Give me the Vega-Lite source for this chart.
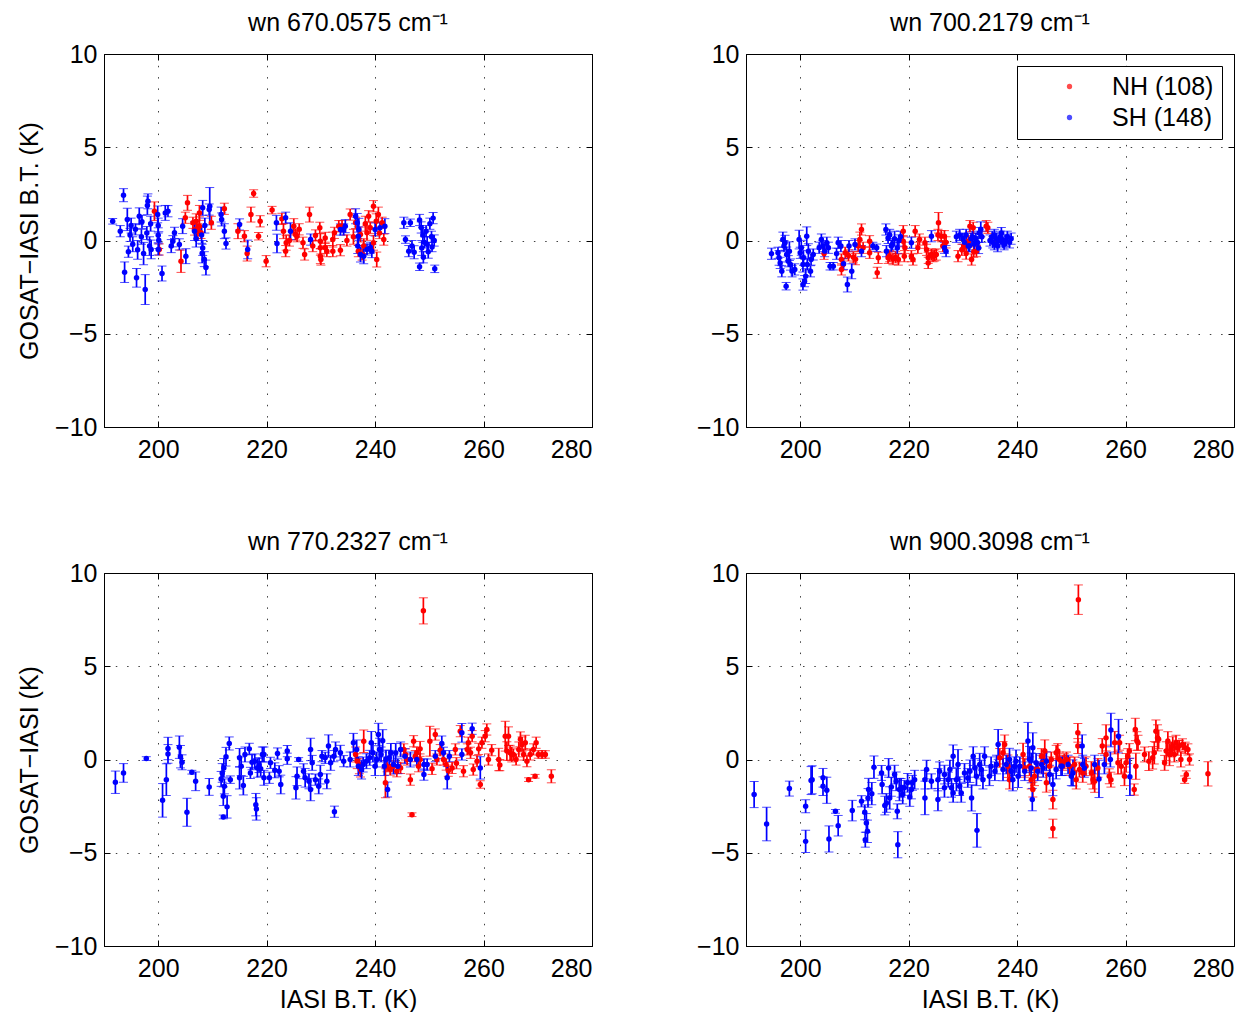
{
"$schema":"https://vega.github.io/schema/vega-lite/v6.json",
"padding":{"left":16,"top":10,"right":0,"bottom":0},
"background":"white",
"config":{
 "font":"Liberation Sans",
 "view":{"stroke":"black","strokeWidth":1},
 "axis":{"grid":true,"gridDash":[1.5,9.8],"gridColor":"#000","gridOpacity":0.75,"domainColor":"#000","tickColor":"#000","tickSize":-6,"labelFontSize":25,"labelColor":"#000","titleFontSize":25,"titleFontWeight":"normal","titleColor":"#000","labelFont":"Liberation Sans","titleFont":"Liberation Sans"},
 "axisX":{"labelPadding":16,"titlePadding":6},
 "axisY":{"labelPadding":13,"titlePadding":12.5},
 "title":{"fontSize":25,"fontWeight":"normal","color":"#000","font":"Liberation Sans","offset":6}
},
"datasets":{
"a":[
{"g":"NH","x":199.3,"y":1.57,"e":0.5},{"g":"NH","x":200.2,"y":-0.48,"e":0.3},{"g":"NH","x":205.4,"y":2.02,"e":0.4},{"g":"NH","x":205.0,"y":1.22,"e":0.3},{"g":"NH","x":204.2,"y":-1.11,"e":0.6},{"g":"NH","x":206.4,"y":0.95,"e":0.3},{"g":"NH","x":207.0,"y":1.03,"e":0.4},{"g":"NH","x":207.6,"y":0.77,"e":0.5},{"g":"NH","x":207.9,"y":0.41,"e":0.3},{"g":"NH","x":207.3,"y":0.5,"e":0.4},{"g":"NH","x":206.7,"y":0.59,"e":0.3},{"g":"NH","x":207.6,"y":1.48,"e":0.4},{"g":"NH","x":209.8,"y":0.95,"e":0.35},{"g":"NH","x":212.2,"y":1.7,"e":0.3},{"g":"NH","x":214.7,"y":0.5,"e":0.4},{"g":"NH","x":215.9,"y":0.23,"e":0.3},{"g":"NH","x":217.1,"y":1.39,"e":0.4},{"g":"NH","x":217.6,"y":2.52,"e":0.2},{"g":"NH","x":218.8,"y":1.03,"e":0.3},{"g":"NH","x":218.5,"y":0.23,"e":0.2},{"g":"NH","x":219.9,"y":-1.11,"e":0.3},{"g":"NH","x":216.4,"y":-0.7,"e":0.4},{"g":"NH","x":221.0,"y":1.63,"e":0.2},{"g":"NH","x":222.8,"y":1.16,"e":0.3},{"g":"NH","x":223.1,"y":0.5,"e":0.4},{"g":"NH","x":223.5,"y":-0.57,"e":0.3},{"g":"NH","x":223.6,"y":-0.12,"e":0.4},{"g":"NH","x":225.0,"y":0.77,"e":0.4},{"g":"NH","x":225.3,"y":0.32,"e":0.3},{"g":"NH","x":225.6,"y":0.23,"e":0.3},{"g":"NH","x":226.7,"y":-0.12,"e":0.3},{"g":"NH","x":227.0,"y":-0.75,"e":0.3},{"g":"NH","x":227.9,"y":1.39,"e":0.4},{"g":"NH","x":229.0,"y":0.27,"e":0.3},{"g":"NH","x":229.8,"y":0.68,"e":0.3},{"g":"NH","x":229.9,"y":-0.04,"e":0.4},{"g":"NH","x":229.9,"y":-0.39,"e":0.4},{"g":"NH","x":229.9,"y":-0.84,"e":0.4},{"g":"NH","x":230.0,"y":-1.02,"e":0.3},{"g":"NH","x":230.8,"y":0.14,"e":0.3},{"g":"NH","x":230.8,"y":-0.39,"e":0.3},{"g":"NH","x":231.1,"y":-0.57,"e":0.3},{"g":"NH","x":232.2,"y":0.05,"e":0.4},{"g":"NH","x":232.2,"y":-0.57,"e":0.3},{"g":"NH","x":232.5,"y":0.41,"e":0.3},{"g":"NH","x":233.6,"y":-0.52,"e":0.3},{"g":"NH","x":233.3,"y":0.77,"e":0.3},{"g":"NH","x":233.9,"y":0.77,"e":0.3},{"g":"NH","x":235.4,"y":1.39,"e":0.3},{"g":"NH","x":236.4,"y":0.95,"e":0.3},{"g":"NH","x":237.3,"y":0.32,"e":0.4},{"g":"NH","x":237.9,"y":-0.3,"e":0.4},{"g":"NH","x":238.5,"y":0.41,"e":0.4},{"g":"NH","x":238.8,"y":1.3,"e":0.3},{"g":"NH","x":239.7,"y":1.84,"e":0.3},{"g":"NH","x":240.2,"y":1.03,"e":0.4},{"g":"NH","x":240.6,"y":1.39,"e":0.4},{"g":"NH","x":241.3,"y":0.95,"e":0.3},{"g":"NH","x":241.6,"y":0.05,"e":0.3},{"g":"NH","x":240.3,"y":-1.02,"e":0.4},{"g":"NH","x":237.6,"y":-0.75,"e":0.3},{"g":"NH","x":236.9,"y":-0.57,"e":0.3},{"g":"NH","x":239.7,"y":-0.12,"e":0.4},{"g":"NH","x":239.1,"y":0.68,"e":0.3},{"g":"NH","x":238.2,"y":0.9,"e":0.4},{"g":"NH","x":240.8,"y":0.4,"e":0.3},{"g":"NH","x":236.0,"y":0.2,"e":0.4},{"g":"NH","x":234.8,"y":0.0,"e":0.3},{"g":"NH","x":228.5,"y":-0.3,"e":0.3},{"g":"NH","x":226.0,"y":0.6,"e":0.3},{"g":"NH","x":224.2,"y":0.0,"e":0.3},
{"g":"SH","x":191.6,"y":1.03,"e":0.15},{"g":"SH","x":193.6,"y":2.43,"e":0.35},{"g":"SH","x":193.0,"y":0.5,"e":0.3},{"g":"SH","x":194.3,"y":1.13,"e":0.6},{"g":"SH","x":193.8,"y":-1.7,"e":0.55},{"g":"SH","x":196.0,"y":-2.0,"e":0.5},{"g":"SH","x":197.6,"y":-2.63,"e":0.8},{"g":"SH","x":200.7,"y":-1.77,"e":0.4},{"g":"SH","x":198.0,"y":1.88,"e":0.5},{"g":"SH","x":198.1,"y":2.1,"e":0.4},{"g":"SH","x":196.5,"y":1.3,"e":0.45},{"g":"SH","x":194.8,"y":0.3,"e":0.35},{"g":"SH","x":195.3,"y":-0.2,"e":0.4},{"g":"SH","x":195.8,"y":0.6,"e":0.3},{"g":"SH","x":196.2,"y":-0.5,"e":0.5},{"g":"SH","x":196.9,"y":0.2,"e":0.4},{"g":"SH","x":197.3,"y":-0.7,"e":0.6},{"g":"SH","x":197.9,"y":0.4,"e":0.35},{"g":"SH","x":198.4,"y":-0.3,"e":0.5},{"g":"SH","x":198.6,"y":0.9,"e":0.4},{"g":"SH","x":194.5,"y":-0.6,"e":0.3},{"g":"SH","x":195.0,"y":0.8,"e":0.4},{"g":"SH","x":197.0,"y":1.0,"e":0.35},{"g":"SH","x":199.9,"y":1.4,"e":0.45},{"g":"SH","x":201.3,"y":1.48,"e":0.4},{"g":"SH","x":201.8,"y":1.57,"e":0.3},{"g":"SH","x":200.0,"y":0.8,"e":0.4},{"g":"SH","x":200.0,"y":0.28,"e":0.4},{"g":"SH","x":200.1,"y":0.02,"e":0.45},{"g":"SH","x":198.7,"y":-0.48,"e":0.5},{"g":"SH","x":200.0,"y":-0.48,"e":0.3},{"g":"SH","x":202.4,"y":-0.3,"e":0.35},{"g":"SH","x":202.7,"y":-0.04,"e":0.3},{"g":"SH","x":203.0,"y":0.41,"e":0.3},{"g":"SH","x":203.9,"y":-0.21,"e":0.3},{"g":"SH","x":204.5,"y":0.77,"e":0.4},{"g":"SH","x":205.1,"y":-0.84,"e":0.4},{"g":"SH","x":206.7,"y":0.5,"e":0.5},{"g":"SH","x":207.0,"y":0.1,"e":0.45},{"g":"SH","x":208.2,"y":-0.4,"e":0.4},{"g":"SH","x":208.5,"y":-1.0,"e":0.4},{"g":"SH","x":208.1,"y":-0.7,"e":0.5},{"g":"SH","x":208.0,"y":0.3,"e":0.45},{"g":"SH","x":208.6,"y":0.8,"e":0.4},{"g":"SH","x":208.8,"y":-1.45,"e":0.4},{"g":"SH","x":208.2,"y":1.75,"e":0.4},{"g":"SH","x":209.5,"y":1.84,"e":1.0},{"g":"SH","x":209.4,"y":1.66,"e":0.3},{"g":"SH","x":211.6,"y":1.39,"e":0.4},{"g":"SH","x":211.7,"y":1.13,"e":0.35},{"g":"SH","x":212.2,"y":0.5,"e":0.4},{"g":"SH","x":212.5,"y":-0.16,"e":0.3},{"g":"SH","x":215.0,"y":0.86,"e":0.3},{"g":"SH","x":216.5,"y":-0.48,"e":0.5},{"g":"SH","x":221.8,"y":0.95,"e":0.4},{"g":"SH","x":221.9,"y":-0.16,"e":0.5},{"g":"SH","x":223.5,"y":1.22,"e":0.3},{"g":"SH","x":224.4,"y":0.5,"e":0.45},{"g":"SH","x":228.1,"y":0.05,"e":0.3},{"g":"SH","x":233.6,"y":0.59,"e":0.3},{"g":"SH","x":234.2,"y":0.59,"e":0.3},{"g":"SH","x":234.5,"y":0.77,"e":0.35},{"g":"SH","x":236.4,"y":1.3,"e":0.4},{"g":"SH","x":236.7,"y":0.95,"e":0.5},{"g":"SH","x":237.0,"y":0.59,"e":0.6},{"g":"SH","x":236.9,"y":0.23,"e":0.5},{"g":"SH","x":236.8,"y":-0.3,"e":0.4},{"g":"SH","x":237.3,"y":-0.75,"e":0.4},{"g":"SH","x":237.9,"y":-0.84,"e":0.4},{"g":"SH","x":238.5,"y":-0.48,"e":0.3},{"g":"SH","x":239.4,"y":-0.57,"e":0.35},{"g":"SH","x":240.0,"y":0.59,"e":0.35},{"g":"SH","x":240.9,"y":0.68,"e":0.3},{"g":"SH","x":241.8,"y":0.77,"e":0.4},{"g":"SH","x":239.1,"y":-0.39,"e":0.3},{"g":"SH","x":245.3,"y":0.95,"e":0.3},{"g":"SH","x":246.5,"y":0.95,"e":0.2},{"g":"SH","x":245.6,"y":0.05,"e":0.2},{"g":"SH","x":246.2,"y":-0.57,"e":0.3},{"g":"SH","x":247.2,"y":-0.63,"e":0.35},{"g":"SH","x":246.8,"y":-0.3,"e":0.3},{"g":"SH","x":248.2,"y":1.1,"e":0.3},{"g":"SH","x":248.5,"y":0.7,"e":0.3},{"g":"SH","x":248.8,"y":0.3,"e":0.4},{"g":"SH","x":249.1,"y":-0.1,"e":0.3},{"g":"SH","x":248.6,"y":-0.4,"e":0.4},{"g":"SH","x":249.4,"y":0.5,"e":0.3},{"g":"SH","x":249.8,"y":-0.6,"e":0.35},{"g":"SH","x":250.1,"y":0.9,"e":0.3},{"g":"SH","x":250.4,"y":0.2,"e":0.3},{"g":"SH","x":250.7,"y":1.2,"e":0.3},{"g":"SH","x":250.9,"y":0.0,"e":0.3},{"g":"SH","x":249.6,"y":-0.2,"e":0.4},{"g":"SH","x":248.9,"y":-0.9,"e":0.3},{"g":"SH","x":250.5,"y":-0.35,"e":0.25},{"g":"SH","x":248.2,"y":-1.41,"e":0.2},{"g":"SH","x":251.0,"y":-1.52,"e":0.2}
],
"b":[
{"g":"NH","x":204.4,"y":-0.71,"e":0.3},{"g":"NH","x":207.6,"y":-1.02,"e":0.3},{"g":"NH","x":207.6,"y":-1.55,"e":0.3},{"g":"NH","x":207.9,"y":-1.29,"e":0.3},{"g":"NH","x":208.3,"y":-0.66,"e":0.3},{"g":"NH","x":208.9,"y":-0.8,"e":0.3},{"g":"NH","x":209.8,"y":-0.9,"e":0.3},{"g":"NH","x":210.2,"y":-1.0,"e":0.3},{"g":"NH","x":211.0,"y":0.05,"e":0.4},{"g":"NH","x":211.3,"y":0.59,"e":0.3},{"g":"NH","x":210.7,"y":-0.3,"e":0.3},{"g":"NH","x":211.6,"y":-0.39,"e":0.3},{"g":"NH","x":212.8,"y":-0.04,"e":0.3},{"g":"NH","x":212.8,"y":-0.66,"e":0.3},{"g":"NH","x":214.4,"y":-0.93,"e":0.3},{"g":"NH","x":214.2,"y":-1.73,"e":0.3},{"g":"NH","x":216.2,"y":-0.93,"e":0.3},{"g":"NH","x":216.5,"y":-0.84,"e":0.3},{"g":"NH","x":217.1,"y":-1.0,"e":0.3},{"g":"NH","x":217.6,"y":-0.9,"e":0.3},{"g":"NH","x":218.1,"y":-1.02,"e":0.3},{"g":"NH","x":219.0,"y":0.5,"e":0.3},{"g":"NH","x":219.0,"y":-0.04,"e":0.3},{"g":"NH","x":219.2,"y":-0.84,"e":0.3},{"g":"NH","x":219.3,"y":-0.39,"e":0.3},{"g":"NH","x":220.5,"y":-0.84,"e":0.3},{"g":"NH","x":220.8,"y":-1.02,"e":0.3},{"g":"NH","x":221.2,"y":0.5,"e":0.3},{"g":"NH","x":221.7,"y":-0.39,"e":0.3},{"g":"NH","x":222.0,"y":0.05,"e":0.3},{"g":"NH","x":223.0,"y":-0.12,"e":0.3},{"g":"NH","x":223.3,"y":-0.5,"e":0.3},{"g":"NH","x":223.6,"y":-0.93,"e":0.3},{"g":"NH","x":223.6,"y":-1.2,"e":0.3},{"g":"NH","x":224.2,"y":-0.75,"e":0.3},{"g":"NH","x":224.5,"y":-0.84,"e":0.3},{"g":"NH","x":224.8,"y":-0.8,"e":0.3},{"g":"NH","x":225.1,"y":-0.75,"e":0.3},{"g":"NH","x":225.5,"y":0.95,"e":0.55},{"g":"NH","x":225.4,"y":0.3,"e":0.3},{"g":"NH","x":226.0,"y":0.23,"e":0.3},{"g":"NH","x":226.3,"y":-0.3,"e":0.3},{"g":"NH","x":226.6,"y":0.23,"e":0.3},{"g":"NH","x":226.9,"y":-0.1,"e":0.3},{"g":"NH","x":229.1,"y":-0.84,"e":0.3},{"g":"NH","x":229.8,"y":-0.5,"e":0.3},{"g":"NH","x":230.3,"y":-0.3,"e":0.3},{"g":"NH","x":230.6,"y":-0.7,"e":0.3},{"g":"NH","x":231.0,"y":-0.04,"e":0.3},{"g":"NH","x":231.3,"y":0.77,"e":0.3},{"g":"NH","x":231.9,"y":0.68,"e":0.3},{"g":"NH","x":231.6,"y":-1.02,"e":0.3},{"g":"NH","x":232.0,"y":-0.6,"e":0.3},{"g":"NH","x":232.5,"y":-0.57,"e":0.3},{"g":"NH","x":234.3,"y":0.77,"e":0.3},{"g":"NH","x":234.6,"y":0.68,"e":0.3},
{"g":"SH","x":194.7,"y":-0.71,"e":0.3},{"g":"SH","x":195.9,"y":-0.66,"e":0.3},{"g":"SH","x":196.1,"y":-0.93,"e":0.4},{"g":"SH","x":196.3,"y":-1.2,"e":0.3},{"g":"SH","x":196.6,"y":-1.65,"e":0.3},{"g":"SH","x":197.4,"y":-2.45,"e":0.2},{"g":"SH","x":196.8,"y":0.05,"e":0.4},{"g":"SH","x":197.2,"y":-0.12,"e":0.4},{"g":"SH","x":197.0,"y":-0.3,"e":0.3},{"g":"SH","x":197.5,"y":-0.75,"e":0.4},{"g":"SH","x":197.8,"y":-1.11,"e":0.3},{"g":"SH","x":198.0,"y":-0.57,"e":0.5},{"g":"SH","x":198.2,"y":-1.29,"e":0.3},{"g":"SH","x":198.5,"y":-1.65,"e":0.3},{"g":"SH","x":199.0,"y":-1.55,"e":0.3},{"g":"SH","x":199.8,"y":0.05,"e":0.5},{"g":"SH","x":200.2,"y":-0.39,"e":0.4},{"g":"SH","x":200.0,"y":-0.66,"e":0.3},{"g":"SH","x":200.6,"y":-0.93,"e":0.4},{"g":"SH","x":200.5,"y":-1.29,"e":0.4},{"g":"SH","x":201.0,"y":-1.91,"e":0.4},{"g":"SH","x":201.2,"y":0.23,"e":0.5},{"g":"SH","x":201.5,"y":-0.57,"e":0.4},{"g":"SH","x":201.3,"y":-1.29,"e":0.3},{"g":"SH","x":201.9,"y":-1.65,"e":0.3},{"g":"SH","x":202.0,"y":-1.02,"e":0.3},{"g":"SH","x":202.4,"y":-0.75,"e":0.3},{"g":"SH","x":200.5,"y":-2.36,"e":0.3},{"g":"SH","x":200.8,"y":-2.18,"e":0.3},{"g":"SH","x":203.9,"y":0.05,"e":0.3},{"g":"SH","x":204.2,"y":-0.3,"e":0.3},{"g":"SH","x":204.9,"y":-0.12,"e":0.3},{"g":"SH","x":205.2,"y":-0.39,"e":0.3},{"g":"SH","x":203.5,"y":-0.39,"e":0.3},{"g":"SH","x":204.5,"y":-0.57,"e":0.3},{"g":"SH","x":205.5,"y":-1.38,"e":0.2},{"g":"SH","x":206.1,"y":-1.38,"e":0.2},{"g":"SH","x":207.0,"y":-0.12,"e":0.3},{"g":"SH","x":206.7,"y":-0.71,"e":0.3},{"g":"SH","x":208.0,"y":-1.25,"e":0.3},{"g":"SH","x":208.7,"y":-2.36,"e":0.4},{"g":"SH","x":209.0,"y":-0.3,"e":0.3},{"g":"SH","x":210.1,"y":-0.21,"e":0.3},{"g":"SH","x":211.3,"y":-0.57,"e":0.3},{"g":"SH","x":209.5,"y":-1.65,"e":0.4},{"g":"SH","x":207.5,"y":-0.3,"e":0.3},{"g":"SH","x":213.4,"y":-0.3,"e":0.2},{"g":"SH","x":214.1,"y":-0.39,"e":0.2},{"g":"SH","x":215.8,"y":0.59,"e":0.3},{"g":"SH","x":216.2,"y":0.14,"e":0.3},{"g":"SH","x":215.9,"y":-0.57,"e":0.3},{"g":"SH","x":216.5,"y":0.3,"e":0.3},{"g":"SH","x":217.0,"y":-0.2,"e":0.3},{"g":"SH","x":217.4,"y":0.1,"e":0.4},{"g":"SH","x":217.9,"y":-0.4,"e":0.3},{"g":"SH","x":218.2,"y":0.0,"e":0.3},{"g":"SH","x":218.5,"y":0.2,"e":0.3},{"g":"SH","x":216.8,"y":-0.3,"e":0.3},{"g":"SH","x":220.5,"y":-0.12,"e":0.3},{"g":"SH","x":224.2,"y":0.23,"e":0.3},{"g":"SH","x":226.6,"y":-0.39,"e":0.3},{"g":"SH","x":226.9,"y":-0.57,"e":0.3},{"g":"SH","x":228.8,"y":0.2,"e":0.3},{"g":"SH","x":229.4,"y":0.3,"e":0.3},{"g":"SH","x":230.0,"y":0.1,"e":0.3},{"g":"SH","x":230.3,"y":-0.1,"e":0.3},{"g":"SH","x":230.6,"y":0.3,"e":0.3},{"g":"SH","x":231.2,"y":-0.3,"e":0.3},{"g":"SH","x":231.5,"y":0.1,"e":0.3},{"g":"SH","x":231.8,"y":0.2,"e":0.3},{"g":"SH","x":232.1,"y":-0.2,"e":0.3},{"g":"SH","x":232.4,"y":0.1,"e":0.3},{"g":"SH","x":232.7,"y":-0.1,"e":0.3},{"g":"SH","x":233.0,"y":0.4,"e":0.3},{"g":"SH","x":233.3,"y":0.6,"e":0.4},{"g":"SH","x":233.5,"y":0.2,"e":0.3},{"g":"SH","x":232.9,"y":-0.4,"e":0.3},{"g":"SH","x":231.0,"y":-0.3,"e":0.3},{"g":"SH","x":235.0,"y":0.0,"e":0.3},{"g":"SH","x":235.4,"y":0.2,"e":0.3},{"g":"SH","x":235.8,"y":0.3,"e":0.3},{"g":"SH","x":236.2,"y":0.1,"e":0.3},{"g":"SH","x":236.6,"y":0.0,"e":0.3},{"g":"SH","x":237.0,"y":0.1,"e":0.3},{"g":"SH","x":237.4,"y":-0.1,"e":0.3},{"g":"SH","x":237.8,"y":0.0,"e":0.3},{"g":"SH","x":238.2,"y":0.2,"e":0.3},{"g":"SH","x":238.6,"y":-0.1,"e":0.3},{"g":"SH","x":235.8,"y":-0.2,"e":0.3},{"g":"SH","x":236.4,"y":-0.3,"e":0.3},{"g":"SH","x":237.1,"y":0.4,"e":0.3},{"g":"SH","x":237.6,"y":-0.2,"e":0.3},{"g":"SH","x":238.0,"y":0.0,"e":0.3},{"g":"SH","x":235.5,"y":-0.1,"e":0.3},{"g":"SH","x":236.9,"y":0.2,"e":0.3},{"g":"SH","x":238.9,"y":0.1,"e":0.3}
],
"c":[
{"g":"NH","x":236.4,"y":0.27,"e":0.4},{"g":"NH","x":236.7,"y":-0.09,"e":0.4},{"g":"NH","x":237.1,"y":-0.36,"e":0.4},{"g":"NH","x":237.9,"y":0.98,"e":0.6},{"g":"NH","x":237.3,"y":-0.54,"e":0.4},{"g":"NH","x":241.9,"y":-1.25,"e":0.8},{"g":"NH","x":242.2,"y":-0.36,"e":0.3},{"g":"NH","x":242.8,"y":-0.54,"e":0.3},{"g":"NH","x":243.4,"y":-0.36,"e":0.3},{"g":"NH","x":244.0,"y":-0.63,"e":0.3},{"g":"NH","x":244.7,"y":-0.45,"e":0.3},{"g":"NH","x":245.3,"y":0.54,"e":0.3},{"g":"NH","x":245.6,"y":0.27,"e":0.3},{"g":"NH","x":245.9,"y":0.0,"e":0.3},{"g":"NH","x":246.5,"y":-1.08,"e":0.3},{"g":"NH","x":247.1,"y":0.98,"e":0.3},{"g":"NH","x":247.4,"y":0.18,"e":0.3},{"g":"NH","x":247.7,"y":0.36,"e":0.3},{"g":"NH","x":248.0,"y":-0.36,"e":0.3},{"g":"NH","x":248.3,"y":0.0,"e":0.3},{"g":"NH","x":246.8,"y":-2.96,"e":0.1},{"g":"NH","x":248.3,"y":0.57,"e":0.4},{"g":"NH","x":248.9,"y":7.97,"e":0.7},{"g":"NH","x":250.1,"y":0.98,"e":0.8},{"g":"NH","x":251.1,"y":1.34,"e":0.3},{"g":"NH","x":251.4,"y":0.0,"e":0.3},{"g":"NH","x":252.6,"y":0.0,"e":0.3},{"g":"NH","x":253.1,"y":-0.27,"e":0.3},{"g":"NH","x":254.2,"y":-0.45,"e":0.3},{"g":"NH","x":254.8,"y":0.54,"e":0.3},{"g":"NH","x":255.7,"y":1.52,"e":0.3},{"g":"NH","x":256.3,"y":-0.63,"e":0.3},{"g":"NH","x":257.0,"y":0.54,"e":0.3},{"g":"NH","x":257.2,"y":0.9,"e":0.3},{"g":"NH","x":257.6,"y":0.36,"e":0.3},{"g":"NH","x":257.9,"y":1.25,"e":0.3},{"g":"NH","x":258.1,"y":-0.54,"e":0.3},{"g":"NH","x":258.8,"y":-0.09,"e":0.3},{"g":"NH","x":259.1,"y":0.57,"e":0.3},{"g":"NH","x":259.4,"y":-1.34,"e":0.2},{"g":"NH","x":259.7,"y":0.9,"e":0.3},{"g":"NH","x":260.3,"y":1.25,"e":0.3},{"g":"NH","x":260.6,"y":1.61,"e":0.3},{"g":"NH","x":260.9,"y":0.0,"e":0.3},{"g":"NH","x":262.8,"y":0.0,"e":0.6},{"g":"NH","x":264.0,"y":1.25,"e":0.8},{"g":"NH","x":264.3,"y":0.45,"e":0.5},{"g":"NH","x":264.6,"y":1.25,"e":0.5},{"g":"NH","x":264.9,"y":0.36,"e":0.4},{"g":"NH","x":265.2,"y":0.27,"e":0.4},{"g":"NH","x":265.5,"y":0.27,"e":0.3},{"g":"NH","x":266.5,"y":0.54,"e":0.4},{"g":"NH","x":266.8,"y":1.08,"e":0.4},{"g":"NH","x":267.1,"y":0.81,"e":0.4},{"g":"NH","x":267.4,"y":0.27,"e":0.3},{"g":"NH","x":267.7,"y":0.9,"e":0.4},{"g":"NH","x":268.0,"y":-0.09,"e":0.3},{"g":"NH","x":268.3,"y":-1.08,"e":0.1},{"g":"NH","x":268.6,"y":0.27,"e":0.3},{"g":"NH","x":269.2,"y":0.54,"e":0.3},{"g":"NH","x":269.5,"y":-0.9,"e":0.1},{"g":"NH","x":269.7,"y":0.9,"e":0.3},{"g":"NH","x":270.1,"y":0.27,"e":0.2},{"g":"NH","x":270.8,"y":0.27,"e":0.2},{"g":"NH","x":271.4,"y":0.27,"e":0.2},{"g":"NH","x":272.5,"y":-0.9,"e":0.35},{"g":"NH","x":250.5,"y":-0.5,"e":0.3},{"g":"NH","x":252.0,"y":0.5,"e":0.3},{"g":"NH","x":253.5,"y":-0.6,"e":0.3},{"g":"NH","x":255.0,"y":-0.2,"e":0.3},{"g":"NH","x":261.5,"y":0.5,"e":0.3},{"g":"NH","x":263.0,"y":-0.3,"e":0.3},{"g":"NH","x":266.0,"y":0.0,"e":0.3},
{"g":"SH","x":192.1,"y":-1.22,"e":0.6},{"g":"SH","x":193.6,"y":-0.72,"e":0.5},{"g":"SH","x":197.8,"y":0.05,"e":0.1},{"g":"SH","x":200.8,"y":-2.19,"e":0.9},{"g":"SH","x":201.5,"y":-1.08,"e":0.85},{"g":"SH","x":201.8,"y":0.59,"e":0.6},{"g":"SH","x":201.8,"y":0.3,"e":0.5},{"g":"SH","x":203.9,"y":0.66,"e":0.6},{"g":"SH","x":204.1,"y":0.15,"e":0.6},{"g":"SH","x":204.4,"y":-0.15,"e":0.4},{"g":"SH","x":205.3,"y":-2.83,"e":0.75},{"g":"SH","x":206.2,"y":-0.68,"e":0.1},{"g":"SH","x":206.9,"y":-1.17,"e":0.5},{"g":"SH","x":209.4,"y":-1.47,"e":0.45},{"g":"SH","x":211.6,"y":-1.04,"e":0.4},{"g":"SH","x":211.8,"y":-0.72,"e":0.5},{"g":"SH","x":212.1,"y":-0.45,"e":0.5},{"g":"SH","x":212.2,"y":-1.44,"e":0.4},{"g":"SH","x":212.0,"y":-1.97,"e":0.5},{"g":"SH","x":212.7,"y":-2.54,"e":0.6},{"g":"SH","x":212.0,"y":-3.08,"e":0.1},{"g":"SH","x":213.1,"y":0.86,"e":0.35},{"g":"SH","x":212.5,"y":0.15,"e":0.5},{"g":"SH","x":213.3,"y":-1.08,"e":0.2},{"g":"SH","x":215.0,"y":0.09,"e":0.5},{"g":"SH","x":215.3,"y":-0.36,"e":0.5},{"g":"SH","x":215.0,"y":-0.98,"e":0.6},{"g":"SH","x":215.7,"y":-1.4,"e":0.5},{"g":"SH","x":216.0,"y":0.27,"e":0.4},{"g":"SH","x":217.0,"y":-0.72,"e":0.3},{"g":"SH","x":216.8,"y":0.57,"e":0.3},{"g":"SH","x":217.3,"y":-0.15,"e":0.4},{"g":"SH","x":217.8,"y":-0.1,"e":0.4},{"g":"SH","x":218.3,"y":-0.45,"e":0.5},{"g":"SH","x":218.6,"y":-0.3,"e":0.4},{"g":"SH","x":218.9,"y":-0.5,"e":0.4},{"g":"SH","x":219.2,"y":0.27,"e":0.4},{"g":"SH","x":218.0,"y":-2.42,"e":0.6},{"g":"SH","x":218.1,"y":-2.65,"e":0.6},{"g":"SH","x":219.5,"y":0.27,"e":0.4},{"g":"SH","x":219.5,"y":-0.98,"e":0.4},{"g":"SH","x":220.7,"y":-0.18,"e":0.3},{"g":"SH","x":220.5,"y":-0.98,"e":0.3},{"g":"SH","x":221.5,"y":-0.58,"e":0.4},{"g":"SH","x":222.0,"y":0.32,"e":0.3},{"g":"SH","x":222.3,"y":-0.63,"e":0.3},{"g":"SH","x":222.6,"y":-1.34,"e":0.5},{"g":"SH","x":223.8,"y":0.45,"e":0.3},{"g":"SH","x":223.8,"y":0.04,"e":0.3},{"g":"SH","x":225.4,"y":-1.52,"e":0.6},{"g":"SH","x":225.6,"y":-0.9,"e":0.5},{"g":"SH","x":225.9,"y":0.0,"e":0.1},{"g":"SH","x":226.8,"y":-0.63,"e":0.4},{"g":"SH","x":227.1,"y":-0.98,"e":0.5},{"g":"SH","x":227.8,"y":-1.17,"e":0.4},{"g":"SH","x":228.1,"y":0.54,"e":0.6},{"g":"SH","x":228.1,"y":-1.61,"e":0.6},{"g":"SH","x":228.4,"y":-0.18,"e":0.4},{"g":"SH","x":229.0,"y":-1.08,"e":0.3},{"g":"SH","x":229.6,"y":-1.44,"e":0.4},{"g":"SH","x":229.9,"y":-0.81,"e":0.5},{"g":"SH","x":230.2,"y":0.18,"e":0.3},{"g":"SH","x":230.8,"y":0.09,"e":0.3},{"g":"SH","x":231.1,"y":-1.17,"e":0.4},{"g":"SH","x":231.4,"y":0.72,"e":0.6},{"g":"SH","x":231.8,"y":-0.18,"e":0.4},{"g":"SH","x":232.4,"y":0.18,"e":0.3},{"g":"SH","x":232.7,"y":0.54,"e":0.4},{"g":"SH","x":232.5,"y":-2.8,"e":0.3},{"g":"SH","x":233.6,"y":0.36,"e":0.4},{"g":"SH","x":234.2,"y":-0.09,"e":0.3},{"g":"SH","x":235.4,"y":0.0,"e":0.4},{"g":"SH","x":236.0,"y":0.9,"e":0.5},{"g":"SH","x":236.6,"y":0.54,"e":0.5},{"g":"SH","x":236.9,"y":-0.36,"e":0.5},{"g":"SH","x":237.5,"y":-0.54,"e":0.5},{"g":"SH","x":237.8,"y":-0.27,"e":0.4},{"g":"SH","x":238.4,"y":-0.09,"e":0.4},{"g":"SH","x":239.0,"y":0.09,"e":0.4},{"g":"SH","x":239.3,"y":0.9,"e":0.6},{"g":"SH","x":239.6,"y":0.36,"e":0.5},{"g":"SH","x":240.0,"y":-0.36,"e":0.5},{"g":"SH","x":240.3,"y":0.0,"e":0.4},{"g":"SH","x":240.6,"y":1.34,"e":0.6},{"g":"SH","x":240.8,"y":0.54,"e":0.6},{"g":"SH","x":241.1,"y":0.27,"e":0.4},{"g":"SH","x":241.4,"y":1.0,"e":0.6},{"g":"SH","x":241.7,"y":-0.36,"e":0.5},{"g":"SH","x":242.0,"y":0.0,"e":0.5},{"g":"SH","x":242.3,"y":-1.61,"e":0.4},{"g":"SH","x":242.6,"y":0.09,"e":0.4},{"g":"SH","x":242.9,"y":0.36,"e":0.5},{"g":"SH","x":243.4,"y":-0.27,"e":0.5},{"g":"SH","x":243.8,"y":0.36,"e":0.5},{"g":"SH","x":244.2,"y":-0.36,"e":0.4},{"g":"SH","x":244.7,"y":0.54,"e":0.4},{"g":"SH","x":245.5,"y":0.18,"e":0.4},{"g":"SH","x":246.5,"y":0.0,"e":0.4},{"g":"SH","x":247.7,"y":0.0,"e":0.3},{"g":"SH","x":249.0,"y":-0.27,"e":0.3},{"g":"SH","x":249.0,"y":-0.81,"e":0.3},{"g":"SH","x":249.6,"y":-0.27,"e":0.3},{"g":"SH","x":251.1,"y":0.18,"e":0.3},{"g":"SH","x":252.3,"y":0.86,"e":0.4},{"g":"SH","x":252.6,"y":0.36,"e":0.3},{"g":"SH","x":253.3,"y":-0.98,"e":0.6},{"g":"SH","x":253.7,"y":0.18,"e":0.3},{"g":"SH","x":256.0,"y":1.43,"e":0.5},{"g":"SH","x":256.0,"y":0.27,"e":0.3},{"g":"SH","x":257.9,"y":1.65,"e":0.3},{"g":"SH","x":259.4,"y":-0.45,"e":0.6}
],
"d":[
{"g":"NH","x":237.4,"y":0.36,"e":0.6},{"g":"NH","x":237.7,"y":0.81,"e":0.5},{"g":"NH","x":236.8,"y":0.09,"e":0.5},{"g":"NH","x":238.3,"y":-0.36,"e":0.6},{"g":"NH","x":238.6,"y":-1.08,"e":0.5},{"g":"NH","x":241.1,"y":0.27,"e":0.6},{"g":"NH","x":241.4,"y":-0.45,"e":0.5},{"g":"NH","x":242.3,"y":-0.36,"e":0.5},{"g":"NH","x":242.6,"y":-1.08,"e":0.5},{"g":"NH","x":242.9,"y":-1.61,"e":0.4},{"g":"NH","x":243.2,"y":-0.9,"e":0.5},{"g":"NH","x":243.8,"y":-0.54,"e":0.4},{"g":"NH","x":244.5,"y":0.18,"e":0.4},{"g":"NH","x":244.8,"y":-0.18,"e":0.5},{"g":"NH","x":245.1,"y":0.45,"e":0.6},{"g":"NH","x":245.4,"y":-1.25,"e":0.5},{"g":"NH","x":246.0,"y":-0.36,"e":0.5},{"g":"NH","x":246.3,"y":0.0,"e":0.4},{"g":"NH","x":246.6,"y":-2.15,"e":0.5},{"g":"NH","x":246.6,"y":-3.7,"e":0.5},{"g":"NH","x":247.2,"y":0.36,"e":0.4},{"g":"NH","x":247.5,"y":0.45,"e":0.4},{"g":"NH","x":248.4,"y":-0.18,"e":0.4},{"g":"NH","x":249.1,"y":0.0,"e":0.4},{"g":"NH","x":247.8,"y":0.0,"e":0.4},{"g":"NH","x":248.7,"y":-0.09,"e":0.4},{"g":"NH","x":249.7,"y":-0.36,"e":0.5},{"g":"NH","x":250.6,"y":-0.27,"e":0.4},{"g":"NH","x":250.9,"y":-1.08,"e":0.5},{"g":"NH","x":251.2,"y":1.43,"e":0.5},{"g":"NH","x":251.2,"y":0.72,"e":0.4},{"g":"NH","x":251.3,"y":8.57,"e":0.79},{"g":"NH","x":251.5,"y":-0.54,"e":0.4},{"g":"NH","x":252.1,"y":-0.72,"e":0.5},{"g":"NH","x":252.7,"y":-0.36,"e":0.5},{"g":"NH","x":253.7,"y":-0.72,"e":0.6},{"g":"NH","x":254.0,"y":-1.08,"e":0.5},{"g":"NH","x":254.3,"y":-1.16,"e":0.6},{"g":"NH","x":254.9,"y":-0.45,"e":0.5},{"g":"NH","x":255.7,"y":0.72,"e":0.4},{"g":"NH","x":256.4,"y":1.16,"e":0.7},{"g":"NH","x":256.4,"y":0.27,"e":0.5},{"g":"NH","x":257.0,"y":-0.9,"e":0.4},{"g":"NH","x":257.3,"y":-1.08,"e":0.4},{"g":"NH","x":258.0,"y":0.9,"e":0.6},{"g":"NH","x":258.6,"y":-0.18,"e":0.6},{"g":"NH","x":258.9,"y":0.9,"e":0.4},{"g":"NH","x":259.2,"y":-0.36,"e":0.4},{"g":"NH","x":259.8,"y":-0.9,"e":0.5},{"g":"NH","x":260.1,"y":-0.18,"e":0.5},{"g":"NH","x":260.4,"y":0.18,"e":0.4},{"g":"NH","x":260.7,"y":0.45,"e":0.4},{"g":"NH","x":261.6,"y":-1.61,"e":0.3},{"g":"NH","x":261.8,"y":1.61,"e":0.6},{"g":"NH","x":261.9,"y":-0.36,"e":0.7},{"g":"NH","x":262.1,"y":0.99,"e":0.5},{"g":"NH","x":262.3,"y":0.9,"e":0.4},{"g":"NH","x":263.5,"y":0.27,"e":0.4},{"g":"NH","x":264.3,"y":-0.09,"e":0.5},{"g":"NH","x":265.0,"y":0.09,"e":0.6},{"g":"NH","x":265.3,"y":0.36,"e":0.6},{"g":"NH","x":265.6,"y":1.52,"e":0.6},{"g":"NH","x":265.9,"y":1.16,"e":0.7},{"g":"NH","x":266.1,"y":1.08,"e":0.5},{"g":"NH","x":267.2,"y":-0.18,"e":0.4},{"g":"NH","x":267.5,"y":0.45,"e":0.5},{"g":"NH","x":267.8,"y":0.99,"e":0.5},{"g":"NH","x":268.1,"y":0.27,"e":0.6},{"g":"NH","x":268.4,"y":0.54,"e":0.4},{"g":"NH","x":268.7,"y":0.72,"e":0.5},{"g":"NH","x":269.0,"y":0.27,"e":0.4},{"g":"NH","x":269.3,"y":0.9,"e":0.4},{"g":"NH","x":269.6,"y":0.63,"e":0.4},{"g":"NH","x":269.9,"y":0.72,"e":0.3},{"g":"NH","x":270.2,"y":0.0,"e":0.4},{"g":"NH","x":270.5,"y":0.81,"e":0.3},{"g":"NH","x":270.9,"y":-1.08,"e":0.2},{"g":"NH","x":271.0,"y":0.63,"e":0.3},{"g":"NH","x":271.2,"y":-0.81,"e":0.2},{"g":"NH","x":271.5,"y":0.54,"e":0.3},{"g":"NH","x":271.8,"y":0.0,"e":0.3},{"g":"NH","x":275.2,"y":-0.77,"e":0.65},
{"g":"SH","x":191.5,"y":-1.88,"e":0.7},{"g":"SH","x":193.8,"y":-3.46,"e":0.9},{"g":"SH","x":198.0,"y":-1.56,"e":0.4},{"g":"SH","x":201.0,"y":-2.51,"e":0.35},{"g":"SH","x":201.0,"y":-4.39,"e":0.6},{"g":"SH","x":202.0,"y":-1.13,"e":0.75},{"g":"SH","x":202.2,"y":-1.08,"e":0.75},{"g":"SH","x":204.2,"y":-0.98,"e":0.5},{"g":"SH","x":204.2,"y":-1.43,"e":0.5},{"g":"SH","x":204.9,"y":-1.65,"e":0.7},{"g":"SH","x":205.3,"y":-4.26,"e":0.7},{"g":"SH","x":206.5,"y":-2.78,"e":0.1},{"g":"SH","x":207.0,"y":-3.55,"e":0.55},{"g":"SH","x":209.6,"y":-2.74,"e":0.55},{"g":"SH","x":211.3,"y":-2.24,"e":0.3},{"g":"SH","x":211.9,"y":-2.83,"e":0.4},{"g":"SH","x":212.2,"y":-3.4,"e":0.5},{"g":"SH","x":212.4,"y":-3.85,"e":0.6},{"g":"SH","x":212.0,"y":-4.3,"e":0.4},{"g":"SH","x":212.5,"y":-2.06,"e":0.5},{"g":"SH","x":212.6,"y":-1.61,"e":0.6},{"g":"SH","x":213.2,"y":-1.83,"e":0.6},{"g":"SH","x":213.6,"y":-0.41,"e":0.6},{"g":"SH","x":215.0,"y":-0.72,"e":0.4},{"g":"SH","x":215.1,"y":-1.34,"e":0.5},{"g":"SH","x":215.6,"y":-2.47,"e":0.5},{"g":"SH","x":215.9,"y":-2.33,"e":0.5},{"g":"SH","x":216.3,"y":-0.45,"e":0.5},{"g":"SH","x":216.5,"y":-2.06,"e":0.6},{"g":"SH","x":216.8,"y":-1.47,"e":0.5},{"g":"SH","x":217.4,"y":-0.81,"e":0.5},{"g":"SH","x":217.7,"y":-1.17,"e":0.5},{"g":"SH","x":217.9,"y":-2.78,"e":0.4},{"g":"SH","x":218.0,"y":-4.57,"e":0.7},{"g":"SH","x":218.3,"y":-1.61,"e":0.6},{"g":"SH","x":218.6,"y":-1.52,"e":0.5},{"g":"SH","x":218.9,"y":-1.88,"e":0.5},{"g":"SH","x":219.2,"y":-1.52,"e":0.4},{"g":"SH","x":219.8,"y":-1.25,"e":0.5},{"g":"SH","x":220.2,"y":-2.01,"e":0.5},{"g":"SH","x":220.7,"y":-1.25,"e":0.4},{"g":"SH","x":220.5,"y":-1.61,"e":0.5},{"g":"SH","x":221.1,"y":-1.08,"e":0.5},{"g":"SH","x":223.0,"y":-1.08,"e":0.5},{"g":"SH","x":223.3,"y":-0.54,"e":0.5},{"g":"SH","x":223.0,"y":-2.06,"e":0.9},{"g":"SH","x":224.2,"y":-1.17,"e":0.4},{"g":"SH","x":225.4,"y":-1.08,"e":0.6},{"g":"SH","x":225.4,"y":-2.15,"e":0.6},{"g":"SH","x":225.7,"y":-0.63,"e":0.5},{"g":"SH","x":226.6,"y":-0.81,"e":0.5},{"g":"SH","x":226.6,"y":-1.52,"e":0.5},{"g":"SH","x":227.3,"y":-1.08,"e":0.4},{"g":"SH","x":227.6,"y":-0.54,"e":0.5},{"g":"SH","x":227.9,"y":-1.52,"e":0.5},{"g":"SH","x":228.2,"y":0.18,"e":0.6},{"g":"SH","x":228.2,"y":-1.79,"e":0.5},{"g":"SH","x":228.8,"y":-1.08,"e":0.6},{"g":"SH","x":229.1,"y":-0.27,"e":0.8},{"g":"SH","x":229.4,"y":-1.43,"e":0.5},{"g":"SH","x":229.7,"y":-1.79,"e":0.5},{"g":"SH","x":230.3,"y":-0.72,"e":0.5},{"g":"SH","x":230.9,"y":-0.99,"e":0.5},{"g":"SH","x":231.3,"y":-0.63,"e":0.6},{"g":"SH","x":231.6,"y":-2.06,"e":0.7},{"g":"SH","x":231.9,"y":0.18,"e":0.5},{"g":"SH","x":232.2,"y":-0.45,"e":0.5},{"g":"SH","x":232.5,"y":-0.9,"e":0.5},{"g":"SH","x":232.6,"y":-3.8,"e":0.9},{"g":"SH","x":233.1,"y":-0.27,"e":0.6},{"g":"SH","x":233.4,"y":-0.54,"e":0.5},{"g":"SH","x":233.7,"y":-1.08,"e":0.5},{"g":"SH","x":234.0,"y":0.18,"e":0.5},{"g":"SH","x":234.9,"y":-0.9,"e":0.5},{"g":"SH","x":235.2,"y":-0.36,"e":0.5},{"g":"SH","x":235.9,"y":-0.63,"e":0.5},{"g":"SH","x":236.2,"y":-0.27,"e":0.5},{"g":"SH","x":236.5,"y":0.81,"e":0.8},{"g":"SH","x":237.4,"y":-0.54,"e":0.6},{"g":"SH","x":238.0,"y":-0.27,"e":0.5},{"g":"SH","x":238.6,"y":0.0,"e":0.6},{"g":"SH","x":238.9,"y":-0.63,"e":0.5},{"g":"SH","x":239.2,"y":-1.08,"e":0.6},{"g":"SH","x":239.5,"y":-0.36,"e":0.5},{"g":"SH","x":239.8,"y":-0.09,"e":0.6},{"g":"SH","x":240.2,"y":-0.9,"e":0.6},{"g":"SH","x":240.5,"y":-0.36,"e":0.5},{"g":"SH","x":241.4,"y":-0.63,"e":0.5},{"g":"SH","x":242.0,"y":0.99,"e":1.0},{"g":"SH","x":242.3,"y":0.0,"e":0.7},{"g":"SH","x":242.6,"y":-0.45,"e":0.8},{"g":"SH","x":242.8,"y":-2.15,"e":0.6},{"g":"SH","x":242.9,"y":0.63,"e":0.8},{"g":"SH","x":243.5,"y":-0.18,"e":0.5},{"g":"SH","x":243.8,"y":-0.63,"e":0.5},{"g":"SH","x":244.5,"y":-0.27,"e":0.5},{"g":"SH","x":244.8,"y":-0.45,"e":0.5},{"g":"SH","x":245.4,"y":-0.09,"e":0.5},{"g":"SH","x":246.0,"y":-0.81,"e":0.5},{"g":"SH","x":246.6,"y":-1.34,"e":0.6},{"g":"SH","x":247.2,"y":-0.54,"e":0.5},{"g":"SH","x":248.1,"y":-0.36,"e":0.5},{"g":"SH","x":248.3,"y":-0.36,"e":0.5},{"g":"SH","x":249.4,"y":-0.27,"e":0.5},{"g":"SH","x":250.0,"y":-0.9,"e":0.5},{"g":"SH","x":250.3,"y":-0.72,"e":0.7},{"g":"SH","x":252.0,"y":0.72,"e":0.6},{"g":"SH","x":252.1,"y":-0.27,"e":0.5},{"g":"SH","x":252.4,"y":-0.45,"e":0.5},{"g":"SH","x":254.3,"y":-0.27,"e":0.5},{"g":"SH","x":255.1,"y":-1.04,"e":1.0},{"g":"SH","x":256.1,"y":-0.27,"e":0.5},{"g":"SH","x":257.2,"y":0.0,"e":0.4},{"g":"SH","x":257.3,"y":1.58,"e":0.9},{"g":"SH","x":258.7,"y":1.25,"e":0.9},{"g":"SH","x":260.8,"y":-0.93,"e":1.0}
]
},
"concat":[
{"width":488,"height":373,"data":{"name":"a"},"title":{"text":"wn 670.0575 cm⁻¹"},
 "layer":[
  {"mark":{"type":"errorbar","ticks":{"size":9,"strokeWidth":1.7},"rule":{"strokeWidth":1.7}},
   "encoding":{
    "x":{"field":"x","type":"quantitative","scale":{"domain":[190,280],"nice":false,"zero":false},"axis":{"orient":"bottom","values":[200,220,240,260,280],"title":null}},
    "y":{"field":"y","type":"quantitative","scale":{"domain":[-10,10],"nice":false},"axis":{"orient":"left","values":[-10,-5,0,5,10],"title":"GOSAT−IASI B.T. (K)"}},
    "yError":{"field":"e"},
    "color":{"field":"g","type":"nominal","scale":{"domain":["NH","SH"],"range":["#ff0000","#0000ff"]},"legend":null}}},
  {"mark":{"type":"circle","size":30,"opacity":1},
   "encoding":{
    "x":{"field":"x","type":"quantitative","axis":{"orient":"top","values":[200,220,240,260,280],"labels":false,"grid":false,"domain":false,"title":null}},
    "y":{"field":"y","type":"quantitative","axis":{"orient":"right","values":[-10,-5,0,5,10],"labels":false,"grid":false,"domain":false,"title":null}},
    "color":{"field":"g","type":"nominal","scale":{"domain":["NH","SH"],"range":["#ff0000","#0000ff"]},"legend":null}}}
 ],
 "resolve":{"axis":{"x":"independent","y":"independent"}}},
{"width":488,"height":373,"data":{"name":"b"},"title":{"text":"wn 700.2179 cm⁻¹"},
 "layer":[
  {"mark":{"type":"errorbar","ticks":{"size":9,"strokeWidth":1.7},"rule":{"strokeWidth":1.7}},
   "encoding":{
    "x":{"field":"x","type":"quantitative","scale":{"domain":[190,280],"nice":false,"zero":false},"axis":{"orient":"bottom","values":[200,220,240,260,280],"title":null}},
    "y":{"field":"y","type":"quantitative","scale":{"domain":[-10,10],"nice":false},"axis":{"orient":"left","values":[-10,-5,0,5,10],"title":null}},
    "yError":{"field":"e"},
    "color":{"field":"g","type":"nominal","scale":{"domain":["NH","SH"],"range":["#ff0000","#0000ff"]},"legend":{"orient":"top-right","offset":12,"title":null,"strokeColor":"black","fillColor":"white","padding":8,"labelFontSize":25,"labelFont":"Liberation Sans","labelColor":"black","symbolType":"circle","symbolSize":28,"symbolStrokeWidth":0,"symbolOffset":32,"labelOffset":30,"rowPadding":5,"cornerRadius":0,"labelExpr":"datum.label == 'NH' ? 'NH (108)' : 'SH (148)'"}}}},
  {"mark":{"type":"circle","size":30,"opacity":1},
   "encoding":{
    "x":{"field":"x","type":"quantitative","axis":{"orient":"top","values":[200,220,240,260,280],"labels":false,"grid":false,"domain":false,"title":null}},
    "y":{"field":"y","type":"quantitative","axis":{"orient":"right","values":[-10,-5,0,5,10],"labels":false,"grid":false,"domain":false,"title":null}},
    "color":{"field":"g","type":"nominal","scale":{"domain":["NH","SH"],"range":["#ff0000","#0000ff"]},"legend":{"orient":"top-right","offset":12,"title":null,"strokeColor":"black","fillColor":"white","padding":8,"labelFontSize":25,"labelFont":"Liberation Sans","labelColor":"black","symbolType":"circle","symbolSize":28,"symbolStrokeWidth":0,"symbolOffset":32,"labelOffset":30,"rowPadding":5,"cornerRadius":0,"labelExpr":"datum.label == 'NH' ? 'NH (108)' : 'SH (148)'"}}}}
 ],
 "resolve":{"axis":{"x":"independent","y":"independent"}}},
{"width":488,"height":373,"data":{"name":"c"},"title":{"text":"wn 770.2327 cm⁻¹"},
 "layer":[
  {"mark":{"type":"errorbar","ticks":{"size":9,"strokeWidth":1.7},"rule":{"strokeWidth":1.7}},
   "encoding":{
    "x":{"field":"x","type":"quantitative","scale":{"domain":[190,280],"nice":false,"zero":false},"axis":{"orient":"bottom","values":[200,220,240,260,280],"title":"IASI B.T. (K)"}},
    "y":{"field":"y","type":"quantitative","scale":{"domain":[-10,10],"nice":false},"axis":{"orient":"left","values":[-10,-5,0,5,10],"title":"GOSAT−IASI (K)"}},
    "yError":{"field":"e"},
    "color":{"field":"g","type":"nominal","scale":{"domain":["NH","SH"],"range":["#ff0000","#0000ff"]},"legend":null}}},
  {"mark":{"type":"circle","size":30,"opacity":1},
   "encoding":{
    "x":{"field":"x","type":"quantitative","axis":{"orient":"top","values":[200,220,240,260,280],"labels":false,"grid":false,"domain":false,"title":null}},
    "y":{"field":"y","type":"quantitative","axis":{"orient":"right","values":[-10,-5,0,5,10],"labels":false,"grid":false,"domain":false,"title":null}},
    "color":{"field":"g","type":"nominal","scale":{"domain":["NH","SH"],"range":["#ff0000","#0000ff"]},"legend":null}}}
 ],
 "resolve":{"axis":{"x":"independent","y":"independent"}}},
{"width":488,"height":373,"data":{"name":"d"},"title":{"text":"wn 900.3098 cm⁻¹"},
 "layer":[
  {"mark":{"type":"errorbar","ticks":{"size":9,"strokeWidth":1.7},"rule":{"strokeWidth":1.7}},
   "encoding":{
    "x":{"field":"x","type":"quantitative","scale":{"domain":[190,280],"nice":false,"zero":false},"axis":{"orient":"bottom","values":[200,220,240,260,280],"title":"IASI B.T. (K)"}},
    "y":{"field":"y","type":"quantitative","scale":{"domain":[-10,10],"nice":false},"axis":{"orient":"left","values":[-10,-5,0,5,10],"title":null}},
    "yError":{"field":"e"},
    "color":{"field":"g","type":"nominal","scale":{"domain":["NH","SH"],"range":["#ff0000","#0000ff"]},"legend":null}}},
  {"mark":{"type":"circle","size":30,"opacity":1},
   "encoding":{
    "x":{"field":"x","type":"quantitative","axis":{"orient":"top","values":[200,220,240,260,280],"labels":false,"grid":false,"domain":false,"title":null}},
    "y":{"field":"y","type":"quantitative","axis":{"orient":"right","values":[-10,-5,0,5,10],"labels":false,"grid":false,"domain":false,"title":null}},
    "color":{"field":"g","type":"nominal","scale":{"domain":["NH","SH"],"range":["#ff0000","#0000ff"]},"legend":null}}}
 ],
 "resolve":{"axis":{"x":"independent","y":"independent"}}}
],
"columns":2,
"spacing":{"row":146,"column":154},
"bounds":"flush",
"resolve":{"scale":{"color":"independent"}}
}
